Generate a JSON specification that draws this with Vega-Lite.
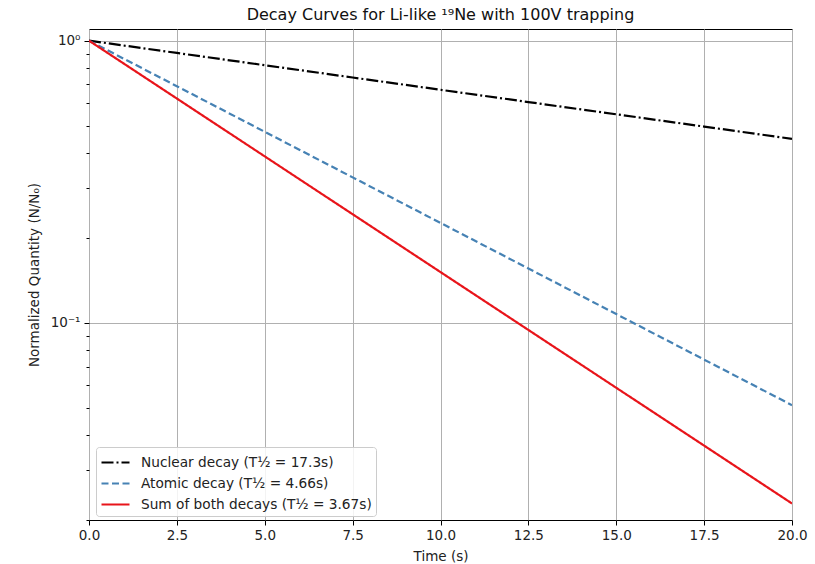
{
  "$schema": "https://vega.github.io/schema/vega-lite/v6.json",
  "autosize": "none",
  "width": 703,
  "height": 491,
  "padding": {"left": 89, "top": 29, "right": 23, "bottom": 44},
  "background": "white",
  "config": {
    "font": "DejaVu Sans",
    "view": {"stroke": "#000000", "strokeWidth": 1},
    "axis": {"domain": false, "labelFont": "DejaVu Sans", "titleFont": "DejaVu Sans", "labelFontSize": 13.5, "titleFontSize": 13.5, "titleFontWeight": "normal", "labelColor": "#222", "titleColor": "#222", "tickColor": "#000", "gridColor": "#b0b0b0", "gridWidth": 1}
  },
  "title": {"text": "Decay Curves for Li-like ¹⁹Ne with 100V trapping", "fontSize": 16, "fontWeight": "normal", "font": "DejaVu Sans", "color": "#111", "offset": 6},
  "data": {"values": [
    {"t": 0, "v": 1, "s": "Nuclear decay (T½ = 17.3s)"},
    {"t": 2.5, "v": 0.90468, "s": "Nuclear decay (T½ = 17.3s)"},
    {"t": 5, "v": 0.81845, "s": "Nuclear decay (T½ = 17.3s)"},
    {"t": 7.5, "v": 0.74044, "s": "Nuclear decay (T½ = 17.3s)"},
    {"t": 10, "v": 0.66986, "s": "Nuclear decay (T½ = 17.3s)"},
    {"t": 12.5, "v": 0.60601, "s": "Nuclear decay (T½ = 17.3s)"},
    {"t": 15, "v": 0.54825, "s": "Nuclear decay (T½ = 17.3s)"},
    {"t": 17.5, "v": 0.49599, "s": "Nuclear decay (T½ = 17.3s)"},
    {"t": 20, "v": 0.44871, "s": "Nuclear decay (T½ = 17.3s)"},
    {"t": 0, "v": 1, "s": "Atomic decay (T½ = 4.66s)"},
    {"t": 2.5, "v": 0.68945, "s": "Atomic decay (T½ = 4.66s)"},
    {"t": 5, "v": 0.47534, "s": "Atomic decay (T½ = 4.66s)"},
    {"t": 7.5, "v": 0.32772, "s": "Atomic decay (T½ = 4.66s)"},
    {"t": 10, "v": 0.22595, "s": "Atomic decay (T½ = 4.66s)"},
    {"t": 12.5, "v": 0.15578, "s": "Atomic decay (T½ = 4.66s)"},
    {"t": 15, "v": 0.1074, "s": "Atomic decay (T½ = 4.66s)"},
    {"t": 17.5, "v": 0.07405, "s": "Atomic decay (T½ = 4.66s)"},
    {"t": 20, "v": 0.05105, "s": "Atomic decay (T½ = 4.66s)"},
    {"t": 0, "v": 1, "s": "Sum of both decays (T½ = 3.67s)"},
    {"t": 2.5, "v": 0.62365, "s": "Sum of both decays (T½ = 3.67s)"},
    {"t": 5, "v": 0.38895, "s": "Sum of both decays (T½ = 3.67s)"},
    {"t": 7.5, "v": 0.24256, "s": "Sum of both decays (T½ = 3.67s)"},
    {"t": 10, "v": 0.15128, "s": "Sum of both decays (T½ = 3.67s)"},
    {"t": 12.5, "v": 0.09434, "s": "Sum of both decays (T½ = 3.67s)"},
    {"t": 15, "v": 0.05884, "s": "Sum of both decays (T½ = 3.67s)"},
    {"t": 17.5, "v": 0.0367, "s": "Sum of both decays (T½ = 3.67s)"},
    {"t": 20, "v": 0.02288, "s": "Sum of both decays (T½ = 3.67s)"}
  ]},
  "mark": {"type": "line", "strokeWidth": 2.2, "clip": true},
  "encoding": {
    "x": {"field": "t", "type": "quantitative", "scale": {"domain": [0, 20], "nice": false, "zero": false},
      "axis": {"title": "Time (s)", "values": [0, 2.5, 5, 7.5, 10, 12.5, 15, 17.5, 20], "format": ".1f", "tickSize": 5, "labelPadding": 3, "titlePadding": 8, "labelFlush": false}},
    "y": {"field": "v", "type": "quantitative", "scale": {"type": "log", "domain": [0.02, 1.1], "nice": false},
      "axis": {"title": "Normalized Quantity (N/N₀)", "values": [0.02, 0.03, 0.04, 0.05, 0.06, 0.07, 0.08, 0.09, 0.1, 0.2, 0.3, 0.4, 0.5, 0.6, 0.7, 0.8, 0.9, 1],
        "labelExpr": "datum.value == 1 ? '10⁰' : (abs(datum.value - 0.1) < 1e-9 ? '10⁻¹' : '')",
        "tickSize": {"condition": {"test": "datum.value == 1 || abs(datum.value - 0.1) < 1e-9", "value": 5}, "value": 3},
        "gridOpacity": {"condition": {"test": "datum.value == 1 || abs(datum.value - 0.1) < 1e-9", "value": 1}, "value": 0},
        "labelPadding": 4, "titlePadding": 9}},
    "color": {"field": "s", "type": "nominal", "sort": null,
      "scale": {"domain": ["Nuclear decay (T½ = 17.3s)", "Atomic decay (T½ = 4.66s)", "Sum of both decays (T½ = 3.67s)"], "range": ["#000000", "#4682b4", "#e8141a"]},
      "legend": {"title": null, "orient": "none", "legendX": 7, "legendY": 418, "labelFontSize": 13.7, "labelFont": "DejaVu Sans", "labelColor": "#222", "labelLimit": 0, "labelOffset": 14, "symbolType": "M-1.4,0H1.4", "symbolSize": 400, "symbolOffset": 4, "symbolStrokeWidth": 2.2, "strokeColor": "#cccccc", "fillColor": "rgba(255,255,255,0.85)", "padding": 4, "cornerRadius": 3, "rowPadding": 2}},
    "strokeDash": {"field": "s", "type": "nominal", "sort": null,
      "scale": {"domain": ["Nuclear decay (T½ = 17.3s)", "Atomic decay (T½ = 4.66s)", "Sum of both decays (T½ = 3.67s)"], "range": [[12, 3, 2, 3], [7, 3.5], [1, 0]]},
      "legend": null}
  }
}
